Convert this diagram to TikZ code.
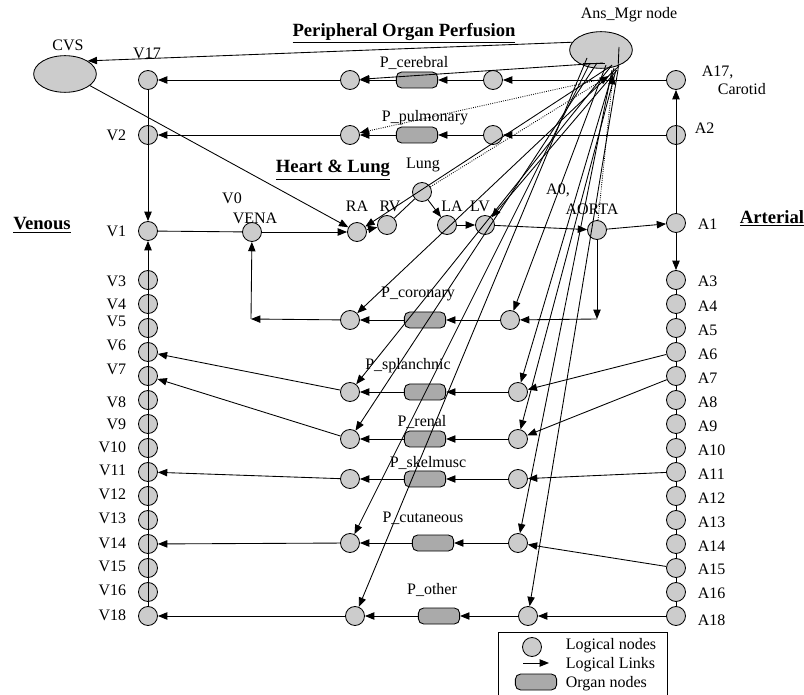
\documentclass[tikz,border=0pt]{standalone}
\usepackage{fontspec}
\setmainfont{Liberation Serif}
\usetikzlibrary{arrows.meta,shapes.geometric}

\definecolor{lgray}{HTML}{CCCCCC}
\definecolor{ogray}{HTML}{AAAAAA}

\begin{document}
\begin{tikzpicture}[x=0.75pt,y=-0.75pt,>={Triangle[length=7pt,width=5.5pt]},line width=0.65pt,
  font=\fontsize{12}{13}\selectfont,
  lnode/.style={circle,draw,fill=lgray,minimum size=14.25pt,inner sep=0pt},
  onode/.style={rectangle,rounded corners=4pt,draw,fill=ogray,minimum width=31pt,minimum height=12pt,inner sep=0pt},
  bnode/.style={ellipse,draw,fill=lgray,inner sep=0pt,minimum width=47pt,minimum height=27.5pt},
  hd/.style={font=\fontsize{14}{16}\selectfont\bfseries},
  dot/.style={densely dotted}]
  \useasboundingbox (0,0) rectangle (804,695);

  % headings
  \node[hd] (tPer) at (404,33) {\underline{Peripheral Organ Perfusion}};
  \node[hd] (tHL) at (333,170) {\underline{Heart \& Lung}};
  \node[hd] (tVen) at (42,225) {\underline{Venous}};
  \node[hd] (tArt) at (772,218) {\underline{Arterial}};

  % manager + cvs
  \node[bnode] (ans) at (601,50) {};
  \node (tAns) at (629,15) {Ans\_Mgr node};
  \node[bnode] (cvs) at (65,74) {};
  \node (tCvs) at (68,45) {CVS};

  % venous column
  \node[lnode] (V17) at (148,80) {};
  \node[lnode] (V2) at (148,135) {};
  \node[lnode] (V1) at (148,231) {};
  \foreach \i/\y in {3/280,4/304,5/328,6/352,7/376,8/400,9/424,10/448,11/472,12/496,13/520,14/544,15/568,16/592,18/616}
    \node[lnode] (V\i) at (148,\y) {};
  \node (tV17) at (147,53) {V17};
  \node[anchor=east] (tV2) at (131,135) {V2};
  \node[anchor=east] (tV1) at (131,231) {V1};
  \foreach \i/\y in {3/281,4/304,5/321,6/345,7/369,8/402,9/424,10/447,11/470,12/494,13/518,14/543,15/566,16/590,18/615}
    \node[anchor=east] (tV\i) at (131,\y) {V\i};

  % arterial column
  \node[lnode] (A17) at (676,80) {};
  \node[lnode] (A2) at (676,135) {};
  \node[lnode] (A1) at (676,223) {};
  \foreach \i/\y in {3/280,4/304,5/328,6/352,7/376,8/400,9/424,10/448,11/472,12/496,13/520,14/544,15/568,16/592,18/616}
    \node[lnode] (A\i) at (676,\y) {};
  \node[anchor=west] (tA17) at (697,72) {A17,};
  \node[anchor=west] (tCar) at (713,89) {Carotid};
  \node[anchor=west] (tA2) at (690,128) {A2};
  \node[anchor=west] (tA1) at (693,224) {A1};
  \foreach \i/\y in {3/281,4/306,5/330,6/354,7/378,8/402,9/426,10/450,11/474,12/498,13/522,14/546,15/569,16/593,18/620}
    \node[anchor=west] (tA\i) at (693,\y) {A\i};

  % heart and lung
  \node[lnode] (VENA) at (252,232) {};
  \node[lnode] (RA) at (357,232) {};
  \node[lnode] (RV) at (387,225) {};
  \node[lnode] (Lung) at (422,192) {};
  \node[lnode] (LA) at (447,225) {};
  \node[lnode] (LV) at (485,225) {};
  \node[lnode] (AO) at (597,230) {};
  \node (tV0) at (232,198) {V0};
  \node (tVENA) at (255,218) {VENA};
  \node (tRA) at (357,206) {RA};
  \node (tRV) at (390,206) {RV};
  \node (tLung) at (423,165) {Lung};
  \node (tLA) at (452,206) {LA};
  \node (tLV) at (480,206) {LV};
  \node (tA0) at (558,190) {A0,};
  \node (tAORTA) at (592,209) {AORTA};

  % organ rows
  \node[lnode] (cR) at (493,80) {};  \node[onode] (cO) at (417,80) {};  \node[lnode] (cL) at (350,80) {};
  \node[lnode] (pR) at (493,135) {}; \node[onode] (pO) at (417,135) {}; \node[lnode] (pL) at (350,135) {};
  \node[lnode] (corR) at (510,320) {}; \node[onode] (corO) at (425,320) {}; \node[lnode] (corL) at (350,320) {};
  \node[lnode] (sR) at (518,392) {}; \node[onode] (sO) at (425,392) {}; \node[lnode] (sL) at (350,392) {};
  \node[lnode] (rR) at (518,439) {}; \node[onode] (rO) at (425,439) {}; \node[lnode] (rL) at (350,439) {};
  \node[lnode] (kR) at (518,479) {}; \node[onode] (kO) at (425,479) {}; \node[lnode] (kL) at (350,479) {};
  \node[lnode] (uR) at (518,543) {}; \node[onode] (uO) at (433,543) {}; \node[lnode] (uL) at (350,543) {};
  \node[lnode] (oR) at (528,616) {}; \node[onode] (oO) at (439,616) {}; \node[lnode] (oL) at (355,616) {};
  \node (tcO) at (414,63) {P\_cerebral};
  \node (tpO) at (425,118) {P\_pulmonary};
  \node (tcorO) at (418,294) {P\_coronary};
  \node (tsO) at (408,366) {P\_splanchnic};
  \node (trO) at (422,422) {P\_renal};
  \node (tkO) at (428,463) {P\_skelmusc};
  \node (tuO) at (423,518) {P\_cutaneous};
  \node (toO) at (432,590) {P\_other};

  % corners
  \coordinate (aoC) at (597,319);
  \coordinate (veC) at (251,319);

  % columns
  \draw[->] (V17) -- (V1);
  \draw[->] (V18) -- (V1);
  \draw[->] (A1) -- (A17);
  \draw[->] (A1) -- (A3);
  \foreach \a/\b in {3/4,4/5,5/6,6/7,7/8,8/9,9/10,10/11,11/12,12/13,13/14,14/15,15/16,16/18}
    \draw (A\a) -- (A\b);

  % heart
  \draw (V1) -- (VENA);
  \draw[->] (VENA) -- (RA);
  \draw[->] (RA) -- (RV);
  \draw (RV) -- (Lung);
  \draw[->] (Lung) -- (LA);
  \draw[->] (LA) -- (LV);
  \draw[->] (LV) -- (AO);
  \draw[->] (AO) -- (A1);
  \draw[->] (AO) -- (aoC);
  \draw[->] (aoC) -- (corR);

  % rows
  \foreach \a/\r/\o/\l/\v in {A17/cR/cO/cL/V17,A2/pR/pO/pL/V2,A6/sR/sO/sL/V6,A7/rR/rO/rL/V7,A11/kR/kO/kL/V11,A15/uR/uO/uL/V14,A18/oR/oO/oL/V18}{
    \draw[->] (\a) -- (\r);
    \draw[->] (\r) -- (\o);
    \draw[->] (\o) -- (\l);
    \draw[->] (\l) -- (\v);
  }
  \draw[->] (corR) -- (corO);
  \draw[->] (corO) -- (corL);
  \draw[->] (corL) -- (veC);
  \draw[->] (veC) -- (VENA);

  % manager links
  \draw[->] (ans.165) -- (cvs.30);
  \draw[->] (cvs.-25) -- (RA);
  \coordinate (fa) at (583,63);  \coordinate (fb) at (605,63);
  \coordinate (fc) at (619,47);  \coordinate (fd) at (618,70);
  \draw (fa) -- (fb);
  \draw (fc) -- (fd);
  \coordinate (s1) at (603,63);  \coordinate (s2) at (611,66);  \coordinate (s3) at (617,70);
  \coordinate (s4) at (619,66);  \coordinate (s5) at (606,65);  \coordinate (s6) at (612,65);
  \coordinate (s7) at (614,68);  \coordinate (s8) at (597,63);  \coordinate (s9) at (616,70);
  \coordinate (s10) at (590,63); \coordinate (s11) at (612,70); \coordinate (s12) at (587,58);
  \coordinate (s13) at (618,70);
  \foreach \s/\t in {s1/cL,s2/RA,s3/LV,s4/corL,s5/corR,s6/sL,s7/sR,s8/rL,s9/rR,s10/uL,s11/uR,s12/oL,s13/oR}
    \draw[->] (\s) -- (\t);
  \coordinate (d1) at (607,78); \coordinate (d2) at (609,76); \coordinate (d3) at (613,75);
  \draw[dot,->] (d1) -- (pL);
  \draw[dot,->] (Lung) -- (d2);
  \draw[dot,->] (AO) -- (d3);

  % legend
  \draw (498,695) |- (667,632) -- (667,695);
  \node[lnode] (kCirc) at (532,647) {};
  \coordinate (kA) at (523,663); \coordinate (kB) at (549,663);
  \draw[->] (kA) -- (kB);
  \node[onode] (kOrg) at (536,682) {};
  \node[anchor=west] (kT1) at (561,646) {Logical nodes};
  \node[anchor=west] (kT2) at (561,665) {Logical Links};
  \node[anchor=west] (kT3) at (561,684) {Organ nodes};
\end{tikzpicture}
\end{document}
